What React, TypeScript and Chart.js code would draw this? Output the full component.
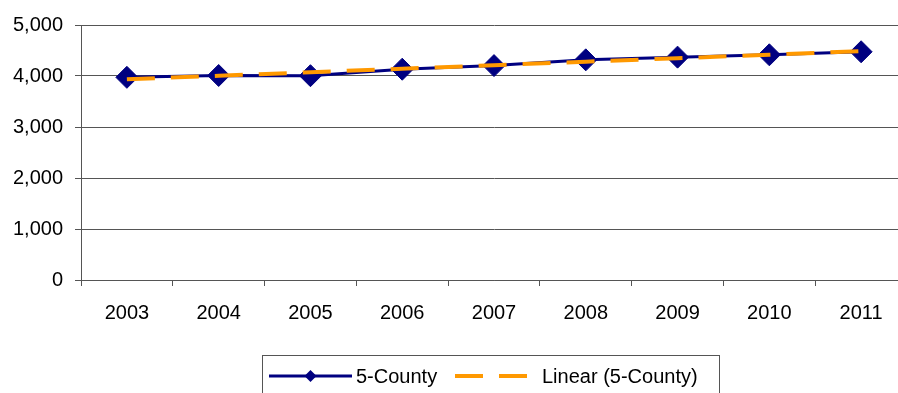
import React, { useEffect, useRef } from "react";
import { Chart, registerables } from "chart.js";

Chart.register(...registerables);

const years = ["2003", "2004", "2005", "2006", "2007", "2008", "2009", "2010", "2011"];
const countyValues = [3974, 4010, 4006, 4133, 4204, 4317, 4370, 4416, 4475];
const trendValues = [3936, 4005, 4074, 4143, 4212, 4281, 4349, 4418, 4487];
const seriesLabel = "5-County";
const trendLabel = "Linear (5-County)";

const FONT = '"Liberation Sans", Arial, sans-serif';
const NAVY = "#000080";
const ORANGE = "#FF9900";
const GRID = "#555555";
const CANVAS_W = 919;

const boxLegend = {
  id: "boxLegend",
  afterDraw(chart: any) {
    const ctx = chart.ctx as CanvasRenderingContext2D;
    const ds = chart.data.datasets;
    const main = ds.find((d: any) => d.label === seriesLabel);
    const tr = ds.find((d: any) => d.label === trendLabel);
    ctx.save();
    ctx.strokeStyle = GRID;
    ctx.lineWidth = 1;
    ctx.strokeRect(262.5, 355.5, 457, 60);
    const cy = 376;
    ctx.strokeStyle = main.borderColor;
    ctx.lineWidth = 3;
    ctx.beginPath();
    ctx.moveTo(269, cy);
    ctx.lineTo(352, cy);
    ctx.stroke();
    ctx.fillStyle = main.backgroundColor;
    ctx.beginPath();
    const cx = 310.5, r = 6;
    ctx.moveTo(cx, cy - r);
    ctx.lineTo(cx + r, cy);
    ctx.lineTo(cx, cy + r);
    ctx.lineTo(cx - r, cy);
    ctx.closePath();
    ctx.fill();
    ctx.fillStyle = "#000";
    ctx.font = "20px " + FONT;
    ctx.textBaseline = "middle";
    ctx.textAlign = "left";
    ctx.fillText(main.label, 356, cy + 1);
    ctx.strokeStyle = tr.borderColor;
    ctx.lineWidth = 4;
    ctx.setLineDash([28, 16]);
    ctx.beginPath();
    ctx.moveTo(455, cy);
    ctx.lineTo(527, cy);
    ctx.stroke();
    ctx.setLineDash([]);
    ctx.fillText(tr.label, 542, cy + 1);
    ctx.restore();
  },
};

export default function App() {
  const ref = useRef<HTMLCanvasElement>(null);
  useEffect(() => {
    if (!ref.current) return;
    const chart = new Chart(ref.current, {
      type: "line",
      data: {
        labels: years,
        datasets: [
          {
            label: trendLabel,
            data: trendValues,
            borderColor: ORANGE,
            backgroundColor: ORANGE,
            borderWidth: 4,
            borderDash: [28, 16],
            borderCapStyle: "butt",
            pointRadius: 0,
            tension: 0,
            order: 0,
          },
          {
            label: seriesLabel,
            data: countyValues,
            borderColor: NAVY,
            backgroundColor: NAVY,
            borderWidth: 3,
            pointStyle: "rectRot",
            pointRadius: 11,
            pointBorderWidth: 1,
            pointBackgroundColor: NAVY,
            pointBorderColor: NAVY,
            tension: 0,
            order: 1,
          },
        ],
      },
      options: {
        animation: false,
        responsive: false,
        layout: { padding: { top: 25, bottom: 73, right: 3, left: 0 } },
        plugins: {
          legend: { display: false },
          tooltip: { enabled: false },
        },
        scales: {
          x: {
            offset: true,
            grid: {
              offset: true,
              drawOnChartArea: false,
              drawTicks: true,
              tickLength: 6,
              color: GRID,
            },
            border: { display: true, color: GRID },
            ticks: {
              color: "#000",
              font: { family: FONT, size: 20 },
              padding: 15,
              maxRotation: 0,
            },
            afterFit: (s: any) => {
              s.height = 40;
            },
          },
          y: {
            min: 0,
            max: 5000,
            grid: { color: GRID, drawTicks: true, tickLength: 6 },
            border: { display: true, color: GRID },
            ticks: {
              stepSize: 1000,
              color: "#000",
              font: { family: FONT, size: 20 },
              padding: 12,
              callback: (v: any) => Number(v).toLocaleString("en-US"),
            },
            afterFit: (s: any) => {
              s.width = 81;
            },
          },
        },
      },
      plugins: [boxLegend],
    });
    return () => chart.destroy();
  }, []);
  return (
    <div
      style={{
        position: "absolute",
        left: 0,
        top: 0,
        width: 898,
        height: 393,
        overflow: "hidden",
        background: "#fff",
      }}
    >
      <div style={{ width: CANVAS_W, height: 393 }}>
        <canvas
          ref={ref}
          width={CANVAS_W}
          height={393}
          style={{ display: "block", width: CANVAS_W, height: 393 }}
        />
      </div>
    </div>
  );
}
